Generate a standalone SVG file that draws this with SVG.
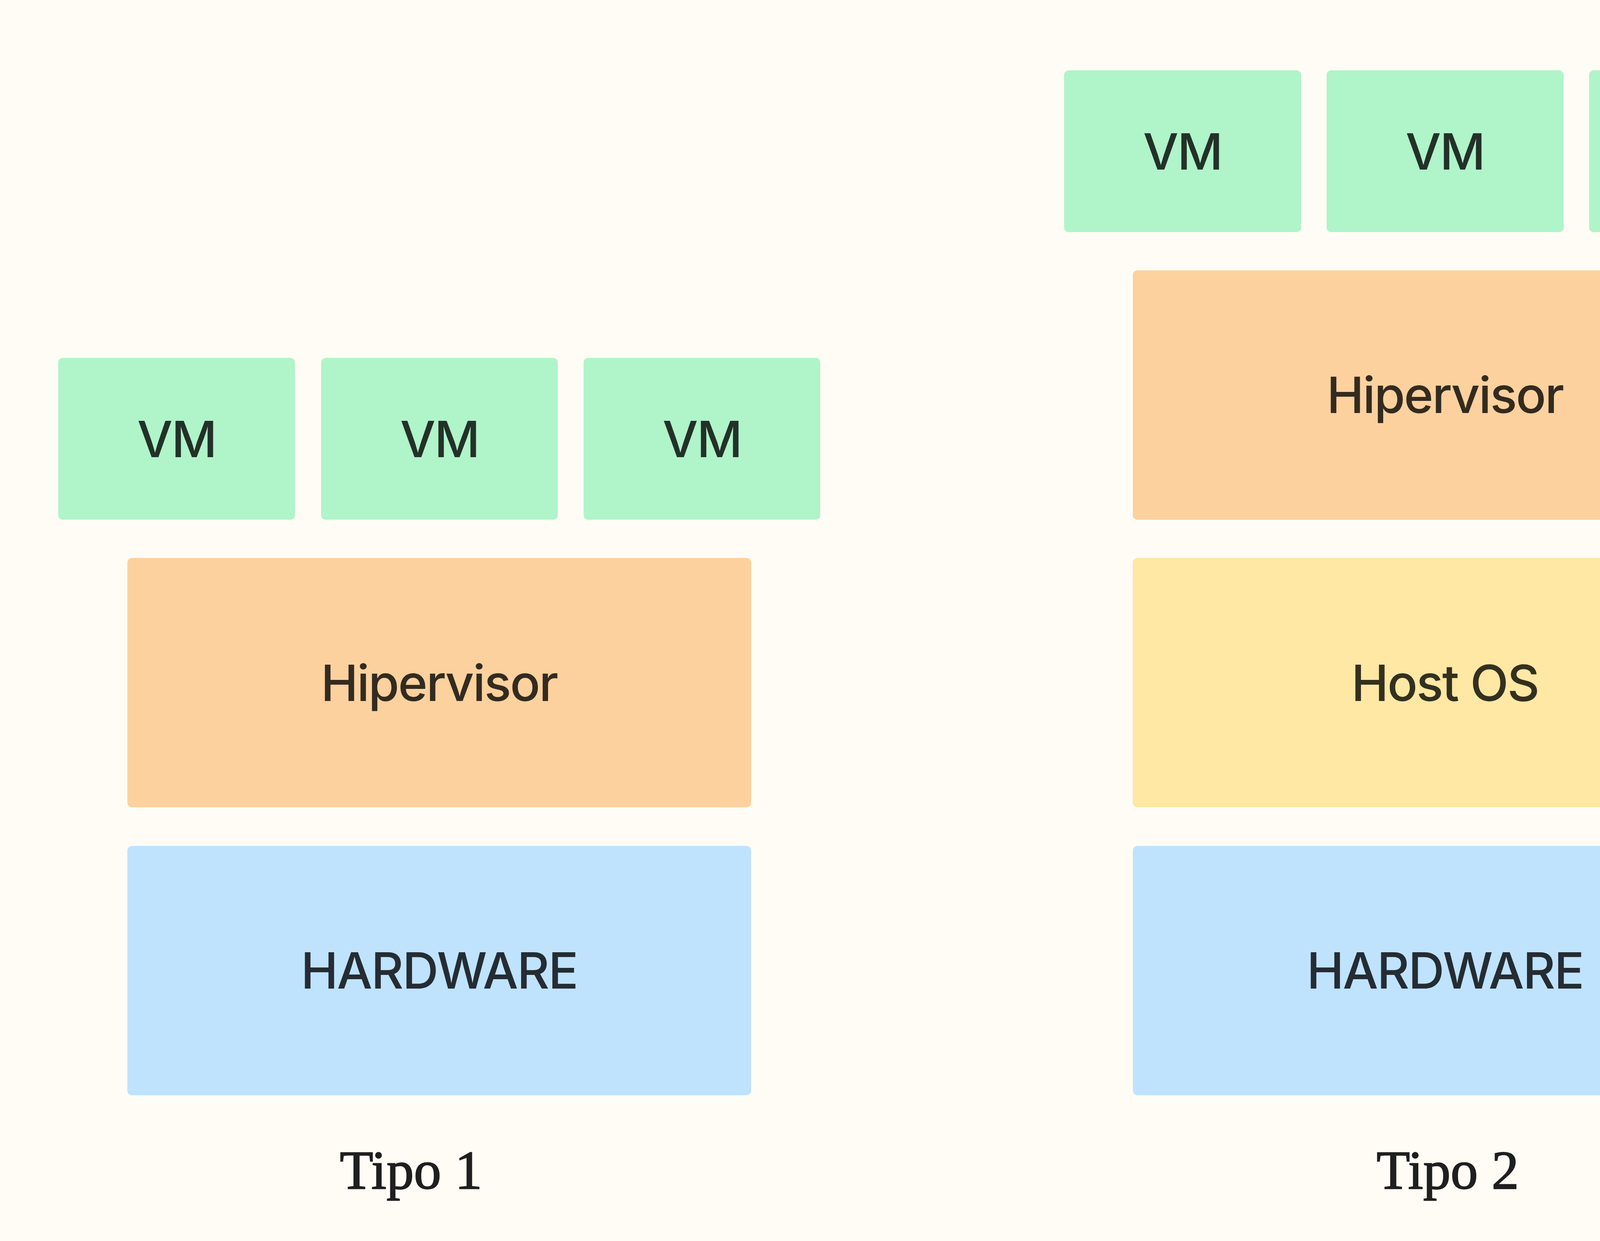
<svg xmlns="http://www.w3.org/2000/svg" width="4772" height="3176" viewBox="0 0 4772 3176">
<style>
.vm{fill:#B0F4C9}
.hip{fill:#FCD19E}
.os{fill:#FFE7A4}
.hw{fill:#BFE3FD}
.lbl{font-family:Inter,"Noto Sans","Liberation Sans",sans-serif;font-size:128px;font-weight:500;letter-spacing:-3px;text-anchor:middle}
.tvm{fill:#233129}
.thip{fill:#332B20}
.tos{fill:#33301F}
.thw{fill:#252C33}
.cap{font-family:"Liberation Serif","DejaVu Serif",serif;font-size:140px;fill:#1F1F1F;stroke:#1F1F1F;stroke-width:2.5px}
</style>
<rect width="4772" height="3176" fill="#FFFCF5"/>
<g id="connectors"/>
<g id="t1-vm1"><rect class="vm" x="149" y="916" width="606" height="414" rx="12"/><text class="lbl tvm" x="452" y="1170">VM</text></g>
<g id="t1-vm2"><rect class="vm" x="822" y="916" width="606" height="414" rx="12"/><text class="lbl tvm" x="1125" y="1170">VM</text></g>
<g id="t1-vm3"><rect class="vm" x="1494" y="916" width="606" height="414" rx="12"/><text class="lbl tvm" x="1797" y="1170">VM</text></g>
<g id="t1-hip"><rect class="hip" x="326" y="1428" width="1597" height="638" rx="12"/><text class="lbl thip" x="1124" y="1794">Hipervisor</text></g>
<g id="t1-hw"><rect class="hw" x="326" y="2165" width="1597" height="638" rx="12"/><text class="lbl thw" x="1124" y="2530">HARDWARE</text></g>
<text id="t1-caption" class="cap" x="870" y="3042">Tipo 1</text>
<g id="t2-vm1"><rect class="vm" x="2724" y="180" width="607" height="414" rx="12"/><text class="lbl tvm" x="3027" y="434">VM</text></g>
<g id="t2-vm2"><rect class="vm" x="3396" y="180" width="607" height="414" rx="12"/><text class="lbl tvm" x="3699" y="434">VM</text></g>
<g id="t2-vm3"><rect class="vm" x="4068" y="180" width="607" height="414" rx="12"/><text class="lbl tvm" x="4371" y="434">VM</text></g>
<g id="t2-hip"><rect class="hip" x="2900" y="692" width="1598" height="638" rx="12"/><text class="lbl thip" x="3699" y="1057">Hipervisor</text></g>
<g id="t2-os"><rect class="os" x="2900" y="1428" width="1598" height="638" rx="12"/><text class="lbl tos" x="3699" y="1794">Host OS</text></g>
<g id="t2-hw"><rect class="hw" x="2900" y="2165" width="1598" height="638" rx="12"/><text class="lbl thw" x="3699" y="2530">HARDWARE</text></g>
<text id="t2-caption" class="cap" x="3524" y="3042">Tipo 2</text>
</svg>
